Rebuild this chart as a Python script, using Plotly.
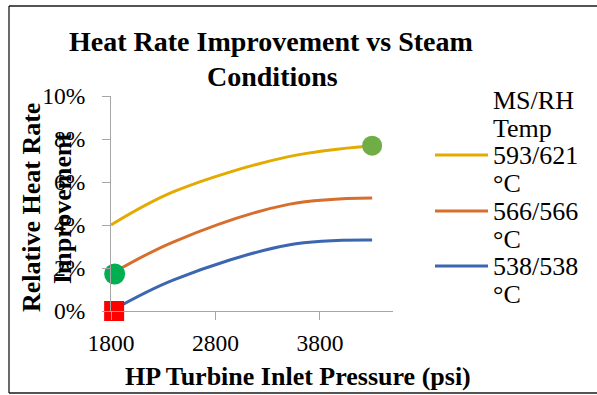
import plotly.graph_objects as go

# ---- data ----
pressure_psi = [1800, 2400, 3500, 4300]
hr_593_621 = [0.040, 0.0555, 0.0718, 0.0769]
hr_566_566 = [0.0172, 0.0322, 0.0496, 0.0526]
hr_538_538 = [0.0, 0.0145, 0.0307, 0.0330]
series_names = ["593/621", "566/566", "538/538"]
series_colors = ["#E3AA00", "#D86E2C", "#3D66B1"]
x_ticks = [1800, 2800, 3800]
y_ticks = [0, 0.02, 0.04, 0.06, 0.08, 0.10]

# highlighted points
marker_x = [1830, 1835, 4300]
marker_y = [0.0, 0.0172, 0.0769]
marker_symbols = ["square", "circle", "circle"]
marker_colors = ["#FF0000", "#00B050", "#70AD47"]
marker_sizes = [20, 21, 20]

W, H = 597, 395
L, R, T, B = 111, 393, 96, 311  # plot area in px


def px(xp):
    return (xp - L) / (R - L)


def py(yp):
    return (B - yp) / (B - T)


FONT = "Liberation Serif, Times New Roman, serif"

fig = go.Figure()
for ys, name, col in zip([hr_593_621, hr_566_566, hr_538_538], series_names, series_colors):
    fig.add_trace(go.Scatter(x=pressure_psi, y=ys, mode="lines", name=name,
                             line=dict(color=col, width=3, shape="spline", smoothing=1),
                             cliponaxis=False, showlegend=False))

for mx, my, ms, mc, sz in zip(marker_x, marker_y, marker_symbols, marker_colors, marker_sizes):
    fig.add_trace(go.Scatter(x=[mx], y=[my], mode="markers",
                             marker=dict(symbol=ms, color=mc, size=sz, line=dict(width=0)),
                             cliponaxis=False, showlegend=False))

annotations = []
# title
annotations.append(dict(text="<b>Heat Rate Improvement vs Steam</b>", x=px(271), y=py(41.5),
                        xref="paper", yref="paper", showarrow=False, xanchor="center", yanchor="middle",
                        font=dict(family=FONT, size=28, color="black")))
annotations.append(dict(text="<b>Conditions</b>", x=px(272), y=py(76.5),
                        xref="paper", yref="paper", showarrow=False, xanchor="center", yanchor="middle",
                        font=dict(family=FONT, size=28, color="black")))
# y title (two lines)
annotations.append(dict(text="<b>Relative Heat Rate</b>", x=px(31), y=py(208), textangle=-90,
                        xref="paper", yref="paper", showarrow=False, xanchor="center", yanchor="middle",
                        font=dict(family=FONT, size=26, color="black")))
annotations.append(dict(text="<b>Improvement</b>", x=px(62), y=py(208), textangle=-90,
                        xref="paper", yref="paper", showarrow=False, xanchor="center", yanchor="middle",
                        font=dict(family=FONT, size=26, color="black")))
# x title
annotations.append(dict(text="<b>HP Turbine Inlet Pressure (psi)</b>", x=px(298), y=py(376),
                        xref="paper", yref="paper", showarrow=False, xanchor="center", yanchor="middle",
                        font=dict(family=FONT, size=26, color="black")))

# legend (manual)
legend_lines = ["MS/RH", "Temp", series_names[0], "°C", series_names[1], "°C", series_names[2], "°C"]
line_y0 = 100.5
step = 27.7
for i, t in enumerate(legend_lines):
    annotations.append(dict(text=t, x=px(491), y=py(line_y0 + i * step),
                            xref="paper", yref="paper", showarrow=False, xanchor="left", yanchor="middle",
                            font=dict(family=FONT, size=26, color="black")))

shapes = []
sample_y = [155, 211, 266]
for yv, col in zip(sample_y, series_colors):
    shapes.append(dict(type="line", xref="paper", yref="paper", x0=px(435), x1=px(488),
                       y0=py(yv), y1=py(yv), line=dict(color=col, width=3)))
# outer border: left, top, bottom (right side runs off the page)
border = dict(color="#1a1a1a", width=1.3)
shapes.append(dict(type="line", xref="paper", yref="paper", x0=px(9), x1=px(9),
                   y0=py(393), y1=py(6), line=border, layer="below"))
shapes.append(dict(type="line", xref="paper", yref="paper", x0=px(9), x1=px(597),
                   y0=py(6), y1=py(6), line=border, layer="below"))
shapes.append(dict(type="line", xref="paper", yref="paper", x0=px(9), x1=px(597),
                   y0=py(393), y1=py(393), line=border, layer="below"))

axis_col = "#A6A6A6"
fig.update_layout(
    width=W, height=H,
    margin=dict(l=L, r=W - R, t=T, b=H - B, pad=0),
    paper_bgcolor="white", plot_bgcolor="white",
    font=dict(family=FONT, size=23.5, color="black"),
    xaxis=dict(range=[1800, 4500], tickvals=x_ticks, showgrid=False, zeroline=False,
               showline=True, linecolor=axis_col, linewidth=1, ticks="outside", ticklen=8,
               tickcolor=axis_col, ticklabelstandoff=3,
               tickfont=dict(family=FONT, size=23.5, color="black")),
    yaxis=dict(range=[0, 0.10], tickvals=y_ticks, tickformat=".0%", showgrid=False, zeroline=False,
               showline=True, linecolor=axis_col, linewidth=1, ticks="outside", ticklen=8,
               tickcolor=axis_col, ticklabelstandoff=12,
               tickfont=dict(family=FONT, size=23.5, color="black")),
    annotations=annotations, shapes=shapes, showlegend=False,
)

fig.write_html("out.html")
